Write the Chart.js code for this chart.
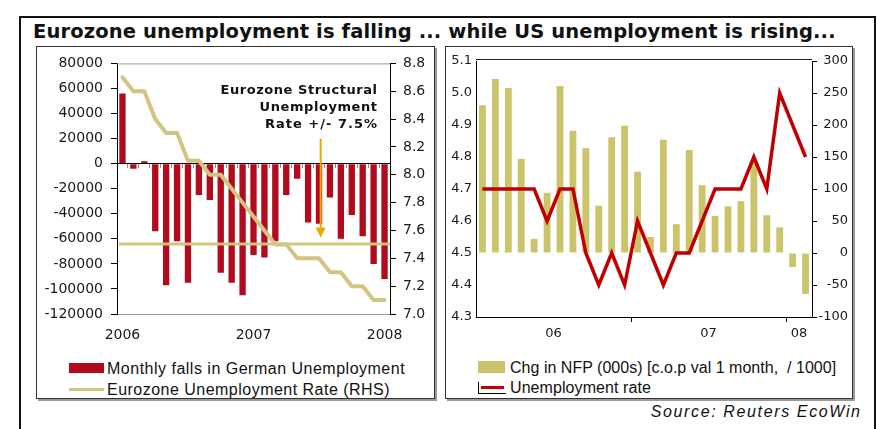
<!DOCTYPE html>
<html><head><meta charset="utf-8">
<script src="https://cdn.jsdelivr.net/npm/chart.js@4.4.0/dist/chart.umd.min.js"></script>
<style>
html,body{margin:0;padding:0;background:#fff;width:877px;height:429px;overflow:hidden;}
body{position:relative;font-family:"DejaVu Sans",sans-serif;color:#111;}
.abs{position:absolute;white-space:pre;}
#frame{position:absolute;left:19px;top:16px;width:853px;height:420px;border:2px solid #111;border-bottom:none;}
.panel{position:absolute;top:46px;height:353px;box-sizing:border-box;border:1px solid #333;box-shadow:2px 2px 0 #9a9a9a;background:#fff;}
#title{left:33px;top:20px;font:bold 19.5px "DejaVu Sans";line-height:24px;}
.ann{font:bold 13px "DejaVu Sans";line-height:17px;right:500px;text-align:right;}
.leg{font:16px "Liberation Sans";line-height:20px;}
#src{font:italic 16px "Liberation Sans";line-height:20px;right:17px;top:402px;}
canvas{position:absolute;}
</style></head>
<body>
<div id="frame"></div>
<div class="panel" style="left:36px;width:399px;"></div>
<div class="panel" style="left:445px;width:408px;"></div>
<div id="title" class="abs" data-w="803">Eurozone unemployment is falling ... while US unemployment is rising...</div>

<canvas id="c1" width="396" height="303" style="left:37px;top:47px;"></canvas>
<canvas id="c2" width="402" height="303" style="left:446px;top:47px;"></canvas>

<div class="abs ann" style="top:81px;" data-w="157" data-r="1">Eurozone Structural</div>
<div class="abs ann" style="top:98px;" data-w="118" data-r="1">Unemployment</div>
<div class="abs ann" style="top:115px;" data-w="113" data-r="1">Rate +/- 7.5%</div>

<div class="abs" style="left:69px;top:363px;width:35px;height:10px;background:#B00C1E;"></div>
<div class="abs leg" style="left:107px;top:359px;" data-w="298">Monthly falls in German Unemployment</div>
<div class="abs" style="left:69px;top:388px;width:35px;height:3px;background:#D4C482;"></div>
<div class="abs leg" style="left:107px;top:380px;" data-w="283">Eurozone Unemployment Rate (RHS)</div>

<div class="abs" style="left:478px;top:361px;width:27px;height:12px;background:#CCC46A;"></div>
<div class="abs leg" style="left:510px;top:358px;" data-w="326">Chg in NFP (000s) [c.o.p val 1 month,  / 1000]</div>
<div class="abs" style="left:478px;top:382px;width:1px;height:12px;background:#000;"></div>
<div class="abs" style="left:478px;top:393px;width:28px;height:1px;background:#000;"></div>
<div class="abs" style="left:481px;top:386px;width:23px;height:3px;background:#C00000;"></div>
<div class="abs leg" style="left:510px;top:378px;" data-w="141">Unemployment rate</div>

<div id="src" class="abs" data-w="211" data-r="1">Source: Reuters EcoWin</div>

<script>
// ---------- Left chart data (Germany / Eurozone) ----------
const deMonths = ['Jan 2006','Feb 2006','Mar 2006','Apr 2006','May 2006','Jun 2006','Jul 2006','Aug 2006','Sep 2006','Oct 2006','Nov 2006','Dec 2006',
                  'Jan 2007','Feb 2007','Mar 2007','Apr 2007','May 2007','Jun 2007','Jul 2007','Aug 2007','Sep 2007','Oct 2007','Nov 2007','Dec 2007','Jan 2008'];
const deGermanFalls = [56000,-4000,2000,-54000,-97000,-62000,-95000,-25000,-29000,-87000,-95000,-105000,
                       -73000,-75000,-62000,-25000,-12000,-47000,-48000,-27000,-60000,-41000,-58000,-80000,-92000];
const deEuroRate = [8.7,8.6,8.6,8.4,8.3,8.3,8.1,8.1,8.0,8.0,7.9,7.8,7.7,7.6,7.5,7.5,7.4,7.4,7.4,7.3,7.3,7.2,7.2,7.1,7.1];
const deStructuralRate = 7.5;
const deArrow = {at: 18.15, from: 8.26, to: 7.55};
const deYearLabels = ['2006','2007','2008'];
const deYearIdx = [0,12,24];
const deLeftTicks = [-120000,-100000,-80000,-60000,-40000,-20000,0,20000,40000,60000,80000];
const deRightTicks = [7.0,7.2,7.4,7.6,7.8,8.0,8.2,8.4,8.6,8.8];

// ---------- Right chart data (US) ----------
const usMonths = ['Jan 06','Feb 06','Mar 06','Apr 06','May 06','Jun 06','Jul 06','Aug 06','Sep 06','Oct 06','Nov 06','Dec 06',
                  'Jan 07','Feb 07','Mar 07','Apr 07','May 07','Jun 07','Jul 07','Aug 07','Sep 07','Oct 07','Nov 07','Dec 07',
                  'Jan 08','Feb 08'];
const usNfp = [231,272,258,147,22,94,261,191,164,74,181,199,127,25,177,45,161,106,58,73,81,145,59,40,-22,-64];
const usRate = [4.7,4.7,4.7,4.7,4.7,4.6,4.7,4.7,4.5,4.4,4.5,4.4,4.6,4.5,4.4,4.5,4.5,4.6,4.7,4.7,4.7,4.8,4.7,5.0,4.9,4.8];
const usTickLabels = ['06','07','08'];
const usTickPos = [5.5,17.5,24.5];
const usYearBoundaries = [12,24];
const usRateTicks = [4.3,4.4,4.5,4.6,4.7,4.8,4.9,5.0,5.1];
const usNfpTicks = [-100,-50,0,50,100,150,200,250,300];

const RED = '#B00C1E', KHAKI = '#D4C482', NFPC = '#CCC46A', URED = '#C00000', ARROW = '#EEA800';
const TXT = '#1a1a1a';
const f14 = {family:'DejaVu Sans', size:14};
const f13 = {family:'DejaVu Sans', size:13};

const deco1 = {
  id:'deco1',
  beforeDatasetsDraw(chart){
    const {ctx, chartArea:a} = chart;
    ctx.save(); ctx.strokeStyle='#999'; ctx.lineWidth=1;
    ctx.beginPath(); ctx.moveTo(a.left, a.top+0.5); ctx.lineTo(a.right, a.top+0.5); ctx.stroke();
    ctx.restore();
  },
  afterDatasetsDraw(chart){
    const {ctx, chartArea:a, scales} = chart;
    const y = Math.round(scales.y1.getPixelForValue(deStructuralRate));
    ctx.save();
    ctx.strokeStyle = KHAKI; ctx.lineWidth = 3;
    ctx.beginPath(); ctx.moveTo(a.left+2, y); ctx.lineTo(a.right, y); ctx.stroke();
    const ax = scales.x.getPixelForValue(deArrow.at);
    const y0 = scales.y1.getPixelForValue(deArrow.from), y1 = scales.y1.getPixelForValue(deArrow.to);
    ctx.strokeStyle = ARROW; ctx.fillStyle = ARROW; ctx.lineWidth = 2;
    ctx.beginPath(); ctx.moveTo(ax, y0); ctx.lineTo(ax, y1-9); ctx.stroke();
    ctx.beginPath(); ctx.moveTo(ax-5, y1-10); ctx.lineTo(ax+5, y1-10); ctx.lineTo(ax, y1); ctx.closePath(); ctx.fill();
    ctx.restore();
  }
};
const deco2 = {
  id:'deco2',
  afterDraw(chart){
    const {ctx, chartArea:a} = chart;
    ctx.save(); ctx.strokeStyle='#222'; ctx.lineWidth=1;
    ctx.beginPath(); ctx.moveTo(a.left, a.top-1.5); ctx.lineTo(a.right, a.top-1.5); ctx.stroke();
    ctx.restore();
  }
};

new Chart(document.getElementById('c1'), {
  type:'bar',
  data:{
    labels: deMonths,
    datasets:[
      {type:'line', label:'Eurozone Unemployment Rate (RHS)', data: deEuroRate, xAxisID:'x', yAxisID:'y1',
       borderColor: KHAKI, borderWidth: 4, pointRadius: 0, tension: 0, order: 0, borderJoinStyle:'round', borderCapStyle:'round'},
      {type:'bar', label:'Monthly falls in German Unemployment', data: deGermanFalls, xAxisID:'x', yAxisID:'y',
       backgroundColor: RED, categoryPercentage: 1, barPercentage: 0.58, order: 1}
    ]
  },
  options:{
    responsive:false, animation:false, devicePixelRatio:1,
    layout:{padding:{top:13,left:0,right:0,bottom:0}},
    plugins:{legend:{display:false}, tooltip:{enabled:false}},
    scales:{
      x:{type:'category', axis:'x', position:{y:0}, offset:true,
         grid:{offset:true, drawOnChartArea:false, drawTicks:true, tickLength:4, color:'#8a8a8a'},
         border:{display:true, color:'#000', width:1}, ticks:{display:false}},
      x2:{type:'category', axis:'x', position:'bottom', offset:true, labels: deMonths,
          grid:{display:false, drawTicks:false}, border:{display:true, color:'#999'},
          ticks:{autoSkip:false, maxRotation:0, padding:13, font:f14, color:TXT,
                 callback:(v,i)=>{const k=deYearIdx.indexOf(i); return k<0?'':deYearLabels[k];}},
          afterFit:s=>{s.height=36;}},
      y:{position:'left', min:-120000, max:80000,
         afterBuildTicks:s=>{s.ticks=deLeftTicks.map(v=>({value:v}));},
         ticks:{callback:v=>String(v), padding:8, font:f14, color:TXT},
         grid:{drawOnChartArea:false, tickLength:6, color:'#000'}, border:{color:'#000'},
         afterFit:s=>{s.width=80;}},
      y1:{position:'right', min:7.0, max:8.8,
          afterBuildTicks:s=>{s.ticks=deRightTicks.map(v=>({value:v}));},
          ticks:{callback:v=>Number(v).toFixed(1), padding:7, font:f14, color:TXT},
          grid:{drawOnChartArea:false, tickLength:6, color:'#000'}, border:{color:'#000'},
          afterFit:s=>{s.width=43;}}
    }
  },
  plugins:[deco1]
});

new Chart(document.getElementById('c2'), {
  type:'bar',
  data:{
    labels: usMonths,
    datasets:[
      {type:'line', label:'Unemployment rate', data: usRate, xAxisID:'x', yAxisID:'y',
       borderColor: URED, borderWidth: 3.5, pointRadius: 0, tension: 0, order: 0, borderJoinStyle:'miter'},
      {type:'bar', label:'Chg in NFP (000s) [c.o.p val 1 month,  / 1000]', data: usNfp, xAxisID:'x', yAxisID:'y1',
       backgroundColor: NFPC, categoryPercentage: 1, barPercentage: 0.53, order: 1}
    ]
  },
  options:{
    responsive:false, animation:false, devicePixelRatio:1,
    layout:{padding:{top:14,left:0,right:0,bottom:0}},
    plugins:{legend:{display:false}, tooltip:{enabled:false}},
    scales:{
      x:{type:'category', axis:'x', position:'bottom', offset:true, weight:0,
         grid:{offset:true, drawOnChartArea:false, drawTicks:true, tickLength:5,
               color:c=>usYearBoundaries.includes(c.index)?'#000':'rgba(0,0,0,0)'},
         border:{display:true, color:'#000'}, ticks:{display:false}},
      xl:{type:'linear', axis:'x', position:'bottom', min:-0.5, max:25.5, weight:1, offset:false, bounds:'data',
          grid:{display:false, drawTicks:false, offset:false}, border:{display:false},
          afterBuildTicks:s=>{s.ticks=usTickPos.map(v=>({value:v}));},
          ticks:{autoSkip:false, maxRotation:0, padding:4, font:f13, color:TXT, callback:(v,i)=>usTickLabels[i]},
          afterFit:s=>{s.height=28;}},
      y:{position:'left', min:4.3, max:5.1,
         afterBuildTicks:s=>{s.ticks=usRateTicks.map(v=>({value:v}));},
         ticks:{callback:v=>Number(v).toFixed(1), padding:4, font:f13, color:TXT},
         grid:{drawOnChartArea:false, drawTicks:false}, border:{color:'#000'},
         afterFit:s=>{s.width=30;}},
      y1:{position:'right', min:-100, max:300,
          afterBuildTicks:s=>{s.ticks=usNfpTicks.map(v=>({value:v}));},
          ticks:{callback:v=>String(v), padding:5, crossAlign:'far', font:f13, color:TXT},
          grid:{drawOnChartArea:false, tickLength:5, color:'#000'}, border:{color:'#000'},
          afterFit:s=>{s.width=36;}}
    }
  },
  plugins:[deco2]
});

// fit HTML text widths to the reference
document.querySelectorAll('[data-w]').forEach(el=>{
  el.style.letterSpacing='0px';
  const w = el.getBoundingClientRect().width;
  const n = el.textContent.length;
  const d = (parseFloat(el.dataset.w) - w) / n;
  el.style.letterSpacing = d.toFixed(2)+'px';
  if (el.dataset.r) el.style.marginRight = (-d).toFixed(2)+'px';
});
</script>
</body></html>
